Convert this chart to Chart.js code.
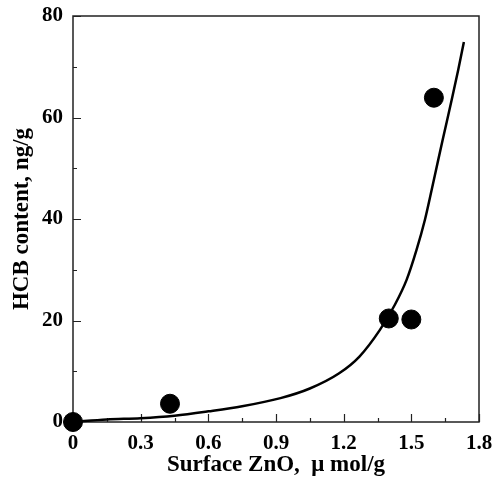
<!DOCTYPE html>
<html>
<head>
<meta charset="utf-8">
<script src="https://cdn.jsdelivr.net/npm/chart.js@4/dist/chart.umd.min.js"></script>
<style>
html, body { margin: 0; padding: 0; background: #fff; }
</style>
</head>
<body>
<canvas id="chart" width="498" height="479"></canvas>
<script>
const zno = [0, 0.43, 1.40, 1.50, 1.60];
const hcb = [0, 3.6, 20.4, 20.2, 63.9];

// fitted curve, sampled from the figure
const curveX = [0, 0.15, 0.3, 0.45, 0.6, 0.75, 0.92, 1.05, 1.18, 1.27, 1.36, 1.427, 1.479, 1.523, 1.560, 1.590, 1.619, 1.640, 1.679, 1.708, 1.733];
const curveY = [0, 0.5, 0.75, 1.25, 2.1, 3.1, 4.7, 6.6, 9.6, 12.9, 18.1, 23.1, 28.0, 33.9, 39.8, 45.7, 51.6, 55.8, 63.5, 69.4, 74.9];

// axis ticks
const xMajor = [0, 0.3, 0.6, 0.9, 1.2, 1.5, 1.8];
const xMinor = [0.15, 0.45, 0.75, 1.05, 1.35, 1.65];
const yMajor = [0, 20, 40, 60, 80];
const yMinor = [10, 30, 50, 70];

const serif = '"Liberation Serif", "Times New Roman", serif';

// frame + inward ticks, drawn under the data
const frameTicks = {
    id: 'frameTicks',
    beforeDatasetsDraw(chart) {
        const { ctx, chartArea: a, scales } = chart;
        ctx.save();
        ctx.strokeStyle = '#222';
        ctx.lineWidth = 1.5;
        ctx.strokeRect(a.left, a.top, a.right - a.left, a.bottom - a.top);
        ctx.lineWidth = 1.2;
        ctx.beginPath();
        const tick = (vals, len, axis) => {
            vals.forEach(v => {
                if (axis === 'x') {
                    const px = Math.round(scales.x.getPixelForValue(v)) + 0.5;
                    ctx.moveTo(px, a.bottom);
                    ctx.lineTo(px, a.bottom - len);
                } else {
                    const py = Math.round(scales.y.getPixelForValue(v)) + 0.5;
                    ctx.moveTo(a.left, py);
                    ctx.lineTo(a.left + len, py);
                }
            });
        };
        tick(xMajor, 8, 'x');
        tick(xMinor, 4, 'x');
        tick(yMajor, 8, 'y');
        tick(yMinor, 4, 'y');
        ctx.stroke();
        ctx.restore();
    }
};

new Chart(document.getElementById('chart'), {
    type: 'scatter',
    data: {
        datasets: [
            {
                label: 'fit',
                data: curveX.map((x, i) => ({ x: x, y: curveY[i] })),
                showLine: true,
                borderColor: '#000',
                borderWidth: 2.5,
                pointRadius: 0,
                cubicInterpolationMode: 'monotone',
                clip: false
            },
            {
                label: 'HCB',
                data: zno.map((x, i) => ({ x: x, y: hcb[i] })),
                backgroundColor: '#000',
                borderColor: '#000',
                pointRadius: 9.5,
                pointHoverRadius: 9.5,
                clip: false
            }
        ]
    },
    options: {
        responsive: false,
        animation: false,
        devicePixelRatio: 1,
        layout: { padding: { top: 16, right: 19, left: 0, bottom: 0 } },
        plugins: {
            legend: { display: false },
            tooltip: { enabled: false }
        },
        scales: {
            x: {
                type: 'linear',
                min: 0,
                max: 1.8,
                afterFit: (s) => { s.height = 57; s.paddingLeft = 0; s.paddingRight = 0; },
                afterBuildTicks: (s) => { s.ticks = xMajor.map(v => ({ value: v })); },
                grid: { display: false, drawTicks: false },
                border: { display: false },
                ticks: {
                    color: '#000',
                    padding: 9,
                    font: { family: serif, size: 21, weight: 'bold' },
                    callback: (v) => v === 0 ? '0' : v.toFixed(1)
                },
                title: {
                    display: true,
                    text: 'Surface ZnO,  \u03bc mol/g',
                    color: '#000',
                    font: { family: serif, size: 23, weight: 'bold' },
                    padding: { top: 0, bottom: 0 }
                }
            },
            y: {
                min: 0,
                max: 80,
                afterFit: (s) => { s.width = 73; s.paddingTop = 0; s.paddingBottom = 0; },
                afterBuildTicks: (s) => { s.ticks = yMajor.map(v => ({ value: v })); },
                grid: { display: false, drawTicks: false },
                border: { display: false },
                ticks: {
                    color: '#000',
                    padding: 10,
                    font: { family: serif, size: 21, weight: 'bold' }
                },
                title: {
                    display: true,
                    text: 'HCB content, ng/g',
                    color: '#000',
                    font: { family: serif, size: 23, weight: 'bold' },
                    padding: { top: 8, bottom: 0 }
                }
            }
        }
    },
    plugins: [frameTicks]
});
</script>
</body>
</html>
